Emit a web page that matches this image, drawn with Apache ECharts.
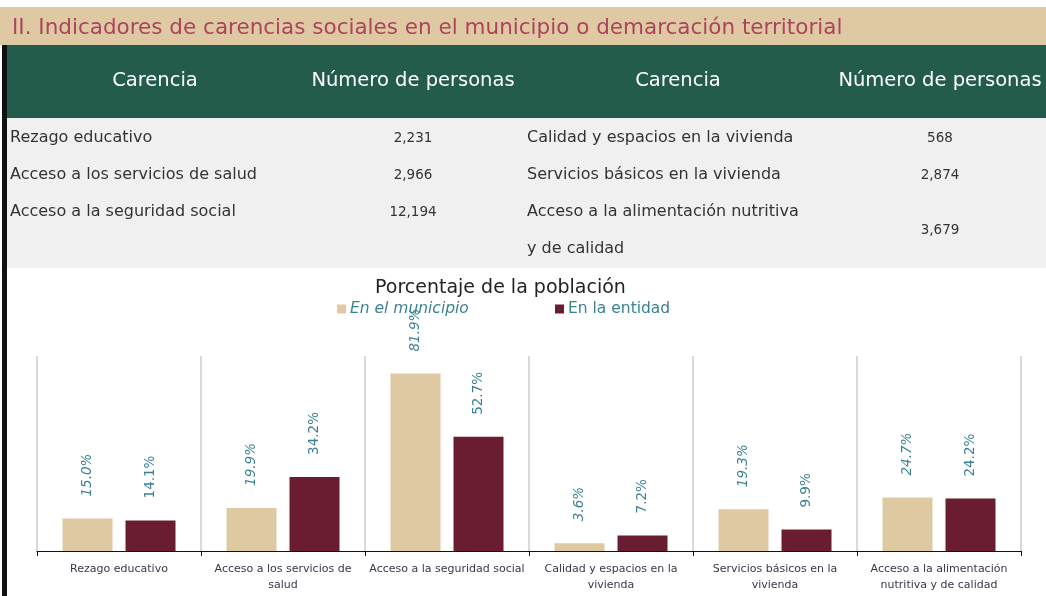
<!DOCTYPE html>
<html>
<head>
<meta charset="utf-8">
<script src="https://cdn.jsdelivr.net/npm/echarts@6/dist/echarts.min.js"></script>
<style>
  html, body { margin: 0; padding: 0; background: #ffffff; }
  #chart { width: 1046px; height: 596px; }
</style>
</head>
<body>
<div id="chart"></div>
<script>
// Indicadores de carencias sociales: tabla de personas y porcentaje de la población
var seccionTitulo = 'II. Indicadores de carencias sociales en el municipio o demarcación territorial';
var encabezados = ['Carencia', 'Número de personas', 'Carencia', 'Número de personas'];

var carenciasIzq = ['Rezago educativo', 'Acceso a los servicios de salud', 'Acceso a la seguridad social'];
var personasIzq = ['2,231', '2,966', '12,194'];
var carenciasDer = ['Calidad y espacios en la vivienda', 'Servicios básicos en la vivienda', 'Acceso a la alimentación nutritiva\ny de calidad'];
var personasDer = ['568', '2,874', '3,679'];

var tituloGrafica = 'Porcentaje de la población';
var categorias = [
  'Rezago educativo',
  'Acceso a los servicios de\nsalud',
  'Acceso a la seguridad social',
  'Calidad y espacios en la\nvivienda',
  'Servicios básicos en la\nvivienda',
  'Acceso a la alimentación\nnutritiva y de calidad'
];
var serieMunicipio = 'En el municipio';
var serieEntidad = 'En la entidad';
var enMunicipio = [15.0, 19.9, 81.9, 3.6, 19.3, 24.7];
var enEntidad = [14.1, 34.2, 52.7, 7.2, 9.9, 24.2];

var FONT = '"DejaVu Sans", "Open Sans", sans-serif';
var TEAL = '#3a8293';
var TAN = '#dfc9a3';
var MAROON = '#6a1c31';
var TEXT = '#333333';

var chart = echarts.init(document.getElementById('chart'), null, { renderer: 'canvas' });

// Table drawn as graphic elements above the chart
var graphics = [
  { type: 'rect', shape: { x: 0, y: 7, width: 1046, height: 38 }, style: { fill: '#dfc9a3' }, silent: true },
  { type: 'text', x: 12, y: 28, style: { text: seccionTitulo, fill: '#ab445d', font: '21.5px ' + FONT, verticalAlign: 'middle' } },
  { type: 'rect', shape: { x: 7, y: 45, width: 1039, height: 73 }, style: { fill: '#235b4d' }, silent: true },
  { type: 'rect', shape: { x: 7, y: 118, width: 1039, height: 150 }, style: { fill: '#f0f0f0' }, silent: true },
  { type: 'rect', shape: { x: 2, y: 45, width: 5, height: 551 }, style: { fill: '#111111' }, silent: true }
];
var headerX = [155, 413, 678, 940];
encabezados.forEach(function (t, i) {
  graphics.push({ type: 'text', x: headerX[i], y: 81, style: { text: t, fill: '#ffffff', font: '19.5px ' + FONT, align: 'center', verticalAlign: 'middle' } });
});
var rowY = [138, 175, 212];
carenciasIzq.forEach(function (t, i) {
  graphics.push({ type: 'text', x: 10, y: rowY[i], style: { text: t, fill: TEXT, font: '16px ' + FONT, verticalAlign: 'middle' } });
  graphics.push({ type: 'text', x: 413, y: rowY[i], style: { text: personasIzq[i], fill: TEXT, font: '13.5px ' + FONT, align: 'center', verticalAlign: 'middle' } });
});
carenciasDer.forEach(function (t, i) {
  var multi = t.indexOf('\n') >= 0;
  graphics.push({ type: 'text', x: 527, y: multi ? rowY[i] - 18.5 : rowY[i], style: { text: t, fill: TEXT, font: '16px ' + FONT, verticalAlign: multi ? 'top' : 'middle', lineHeight: 37 } });
  graphics.push({ type: 'text', x: 940, y: multi ? rowY[i] + 18 : rowY[i], style: { text: personasDer[i], fill: TEXT, font: '13.5px ' + FONT, align: 'center', verticalAlign: 'middle' } });
});

function labelCfg(italic) {
  return {
    show: true,
    position: 'top',
    distance: 22,
    rotate: 90,
    align: 'left',
    verticalAlign: 'middle',
    color: TEAL,
    fontFamily: FONT,
    fontSize: 13.5,
    fontStyle: italic ? 'italic' : 'normal',
    formatter: function (p) { return p.value.toFixed(1) + '%'; }
  };
}

chart.setOption({
  animation: false,
  textStyle: { fontFamily: FONT },
  title: {
    text: tituloGrafica,
    left: 370,
    top: 274,
    textStyle: { fontFamily: FONT, fontSize: 19, fontWeight: 'normal', color: '#222222' }
  },
  legend: [
    {
      data: [serieMunicipio], left: 337, top: 301, padding: 0, icon: 'rect', itemWidth: 9, itemHeight: 9, itemGap: 4,
      textStyle: { fontFamily: FONT, fontSize: 15.5, fontStyle: 'italic', color: TEAL, padding: [0, 0, 0, -1] }
    },
    {
      data: [serieEntidad], left: 555, top: 301, padding: 0, icon: 'rect', itemWidth: 9, itemHeight: 9,
      textStyle: { fontFamily: FONT, fontSize: 15.5, color: TEAL, padding: [0, 0, 0, -1] }
    }
  ],
  grid: { left: 37, right: 25, top: 356, bottom: 45 },
  xAxis: {
    type: 'category',
    data: categorias,
    axisLine: { lineStyle: { color: '#111111', width: 1 } },
    axisTick: { show: true, length: 5, lineStyle: { color: '#111111' } },
    splitLine: { show: true, lineStyle: { color: '#d9d9d9', width: 2 } },
    axisLabel: { interval: 0, fontSize: 11, lineHeight: 16, color: '#3d3548', margin: 10, fontFamily: FONT }
  },
  yAxis: {
    type: 'value', min: 0, max: 90,
    axisLine: { show: false }, axisTick: { show: false },
    axisLabel: { show: false }, splitLine: { show: false }
  },
  series: [
    { name: serieMunicipio, type: 'bar', data: enMunicipio, barWidth: 50, barGap: '26%', itemStyle: { color: TAN }, label: labelCfg(true) },
    { name: serieEntidad, type: 'bar', data: enEntidad, barWidth: 50, itemStyle: { color: MAROON }, label: labelCfg(false) }
  ],
  graphic: graphics
});
</script>
</body>
</html>
